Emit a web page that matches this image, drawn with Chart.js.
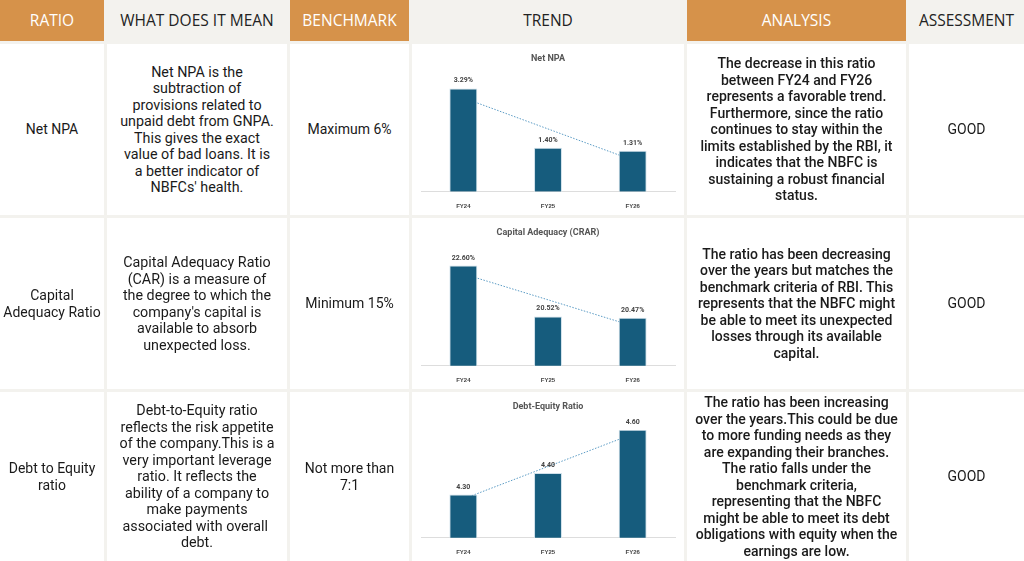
<!DOCTYPE html>
<html>
<head>
<meta charset="utf-8">
<script src="https://cdn.jsdelivr.net/npm/chart.js@4"></script>
<style>
  html, body { margin: 0; padding: 0; background: #f3f2ee; }
  body { width: 1024px; height: 561px; overflow: hidden; font-family: Roboto, "Open Sans", sans-serif; }
  .grid {
    display: grid;
    grid-template-columns: 104px 180px 119px 272px 219px 1fr;
    grid-template-rows: 41px 171px 171px 1fr;
    gap: 3px;
    height: 561px;
  }
  .cell { background: #fff; display: flex; align-items: center; justify-content: center; text-align: center;
          font-size: 14px; line-height: 16.5px; color: #1a1a1a; padding: 0 2px; box-sizing: border-box; }
  .mean { padding: 0 12px; font-size: 14.3px; }
  .hd { font-family: "Open Sans", sans-serif; font-size: 15.5px; background: #f3f2ee; color: #222; }
  .hd.or { background: #d6924a; color: #fff; }
  .an { font-weight: 500; font-size: 14px; line-height: 16.5px; padding: 0 8px; }
  .trend { padding: 5px 5px 2px; }
  .trend canvas { width: 100% !important; height: 100% !important; }
</style>
</head>
<body>
<div class="grid" id="grid"></div>
<script>
const headers = ["RATIO", "WHAT DOES IT MEAN", "BENCHMARK", "TREND", "ANALYSIS", "ASSESSMENT"];
const ratios = ["Net NPA", "Capital<br>Adequacy Ratio", "Debt to Equity<br>ratio"];
const meanings = [
  "Net NPA is the<br>subtraction of provisions related to unpaid debt from GNPA. This gives the exact value of bad loans. It is a better indicator of NBFCs' health.",
  "Capital Adequacy Ratio (CAR) is a measure of the degree to which the company's capital is available to absorb unexpected loss.",
  "Debt-to-Equity ratio reflects the risk appetite of the company.This is a very important leverage ratio. It reflects the ability of a company to make payments associated with overall&nbsp; debt."
];
const benchmarks = ["Maximum 6%", "Minimum 15%", "Not more than<br>7:1"];
const analyses = [
  "The decrease in this ratio between FY24 and FY26 represents a favorable trend. Furthermore, since the ratio continues to stay within the limits established by the RBI, it indicates that the NBFC is sustaining a robust financial status.",
  "The ratio has been decreasing over the years but matches the benchmark criteria of RBI. This represents that the NBFC might be able to meet its unexpected losses through its available capital.",
  "The ratio has been increasing over the years.This could be due to more funding needs as they are expanding their branches. The ratio falls under the benchmark criteria, representing that the NBFC might be able to meet its debt obligations with equity when the earnings are low."
];
const assessments = ["GOOD", "GOOD", "GOOD"];

const years = ["FY24", "FY25", "FY26"];
const chartTitles = ["Net NPA", "Capital Adequacy (CRAR)", "Debt-Equity Ratio"];
const netNpa = [3.29, 1.40, 1.31];
const netNpaTrend = [2.99, 2.00, 1.01];
const crar = [22.60, 20.52, 20.47];
const crarTrend = [22.26, 21.20, 20.13];
const debtEquity = [4.30, 4.40, 4.60];
const debtEquityTrend = [4.28, 4.43, 4.58];
const seriesList = [netNpa, crar, debtEquity];
const trendList = [netNpaTrend, crarTrend, debtEquityTrend];
const yMins = [0, 18.5, 4.1];
const formats = [v => v.toFixed(2) + "%", v => v.toFixed(2) + "%", v => v.toFixed(2)];

const grid = document.getElementById("grid");
function add(html, cls) {
  const d = document.createElement("div");
  d.className = "cell " + cls;
  d.innerHTML = html;
  grid.appendChild(d);
  return d;
}
headers.forEach((h, i) => add(h, "hd" + (i % 2 === 0 ? " or" : "")));
const canvases = [];
for (let r = 0; r < 3; r++) {
  add(ratios[r], "");
  add(meanings[r], "mean");
  add(benchmarks[r], "");
  const t = add("<canvas></canvas>", "trend");
  canvases.push(t.querySelector("canvas"));
  add(analyses[r], "an");
  add(assessments[r], "");
}

const labelPlugin = {
  id: "barLabels",
  afterDatasetsDraw(chart, args, opts) {
    const ctx = chart.ctx;
    const meta = chart.getDatasetMeta(1);
    ctx.save();
    ctx.font = "bold 7px Roboto, sans-serif";
    ctx.fillStyle = "#444";
    ctx.textAlign = "center";
    meta.data.forEach((bar, i) => {
      ctx.fillText(opts.fmt(chart.data.datasets[1].data[i]), bar.x, bar.y - 6);
    });
    ctx.restore();
  }
};

canvases.forEach((cv, i) => {
  new Chart(cv, {
    data: {
      labels: years,
      datasets: [
        { type: "line", data: trendList[i], borderColor: "#5b9bc4", borderWidth: 1,
          borderDash: [1.5, 1.5], pointRadius: 0, order: 2 },
        { type: "bar", data: seriesList[i], backgroundColor: "#165c7d", borderColor: "#cfe0ea",
          borderWidth: 1, barPercentage: 0.33, categoryPercentage: 1, order: 1 }
      ]
    },
    options: {
      responsive: true, maintainAspectRatio: false, animation: false,
      layout: { padding: { top: 4, left: 4, right: 4 } },
      plugins: {
        legend: { display: false }, tooltip: { enabled: false },
        title: { display: true, text: chartTitles[i], color: "#555",
                 font: { size: 9, weight: "bold", family: "Roboto, sans-serif" }, padding: { bottom: 18 } },
        barLabels: { fmt: formats[i] }
      },
      scales: {
        x: { grid: { display: false }, border: { color: "#ddd" },
             ticks: { color: "#444", font: { size: 6, weight: "bold" } } },
        y: { display: false, min: yMins[i] }
      }
    },
    plugins: [labelPlugin]
  });
});
</script>
</body>
</html>
